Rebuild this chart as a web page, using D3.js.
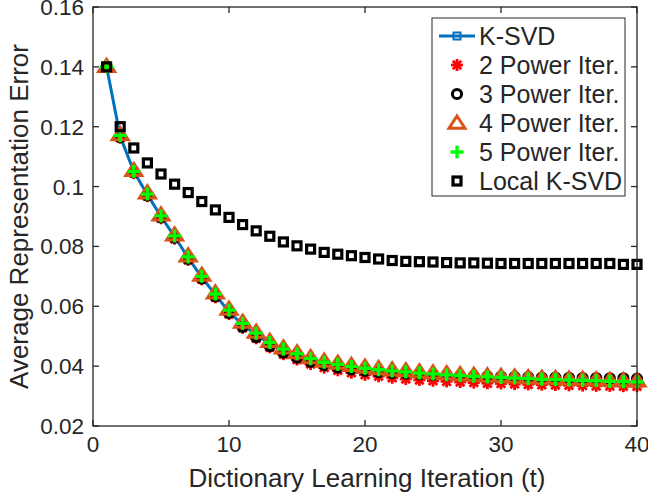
<!DOCTYPE html>
<html>
<head>
<meta charset="utf-8">
<script src="https://cdn.jsdelivr.net/npm/d3@7"></script>
<style>
  body { margin: 0; background: #fff; }
  text { font-family: "Liberation Sans", Arial, Helvetica, sans-serif; fill: #262626; }
</style>
</head>
<body>
<div id="chart"></div>
<script>
// iterations and errors
var iterations = [1,2,3,4,5,6,7,8,9,10,11,12,13,14,15,16,17,18,19,20,
                  21,22,23,24,25,26,27,28,29,30,31,32,33,34,35,36,37,38,39,40];

var ksvd = [0.1400,0.1168,0.1050,0.0973,0.0900,0.0833,0.0762,0.0697,0.0638,0.0582,
            0.0538,0.0505,0.0475,0.0452,0.0433,0.0418,0.0405,0.0397,0.0390,0.0384,
            0.0379,0.0375,0.0371,0.0368,0.0365,0.0362,0.0360,0.0358,0.0356,0.0355,
            0.0353,0.0352,0.0351,0.0350,0.0349,0.0348,0.0348,0.0347,0.0347,0.0346];
var power2 = [0.1400,0.1163,0.1045,0.0968,0.0894,0.0826,0.0755,0.0690,0.0630,0.0574,
              0.0528,0.0493,0.0463,0.0440,0.0422,0.0407,0.0395,0.0386,0.0378,0.0371,
              0.0366,0.0361,0.0357,0.0354,0.0351,0.0349,0.0347,0.0345,0.0343,0.0342,
              0.0340,0.0339,0.0338,0.0337,0.0336,0.0335,0.0334,0.0334,0.0333,0.0333];
var power3 = [0.1400,0.1165,0.1047,0.0970,0.0897,0.0829,0.0758,0.0693,0.0633,0.0578,
              0.0531,0.0497,0.0467,0.0445,0.0428,0.0414,0.0403,0.0395,0.0389,0.0384,
              0.0380,0.0377,0.0375,0.0373,0.0371,0.0370,0.0368,0.0367,0.0366,0.0365,
              0.0364,0.0363,0.0362,0.0362,0.0361,0.0360,0.0360,0.0359,0.0359,0.0358];
var power4 = [0.1402,0.1174,0.1054,0.0979,0.0906,0.0839,0.0769,0.0704,0.0645,0.0591,
              0.0547,0.0514,0.0483,0.0461,0.0445,0.0429,0.0417,0.0410,0.0403,0.0397,
              0.0392,0.0388,0.0385,0.0381,0.0378,0.0375,0.0372,0.0370,0.0368,0.0366,
              0.0364,0.0362,0.0360,0.0359,0.0357,0.0356,0.0355,0.0353,0.0352,0.0351];
var power5 = [0.1400,0.1170,0.1050,0.0975,0.0902,0.0835,0.0765,0.0700,0.0641,0.0587,
              0.0543,0.0510,0.0479,0.0457,0.0441,0.0425,0.0413,0.0406,0.0399,0.0393,
              0.0388,0.0384,0.0381,0.0377,0.0374,0.0371,0.0368,0.0366,0.0364,0.0362,
              0.0360,0.0358,0.0356,0.0355,0.0353,0.0352,0.0351,0.0349,0.0348,0.0347];
var localKsvd = [0.1400,0.1200,0.1129,0.1079,0.1042,0.1008,0.0980,0.0950,0.0922,0.0897,
                 0.0873,0.0852,0.0834,0.0815,0.0802,0.0791,0.0780,0.0774,0.0769,0.0763,
                 0.0758,0.0753,0.0750,0.0749,0.0748,0.0746,0.0745,0.0745,0.0744,0.0743,
                 0.0743,0.0743,0.0743,0.0743,0.0743,0.0743,0.0743,0.0743,0.0740,0.0740];

var seriesNames = ['K-SVD','2 Power Iter.','3 Power Iter.','4 Power Iter.','5 Power Iter.','Local K-SVD'];
var xTicks = [0, 10, 20, 30, 40];
var yTicks = [0.02, 0.04, 0.06, 0.08, 0.1, 0.12, 0.14, 0.16];
var yTickLabels = ['0.02','0.04','0.06','0.08','0.1','0.12','0.14','0.16'];

var width = 648, height = 497;
var margin = {left: 93, right: 11, top: 7, bottom: 71};
var axisColor = '#262626';

var svg = d3.select('#chart').append('svg')
    .attr('width', width).attr('height', height);

var x = d3.scaleLinear().domain([0, 40]).range([margin.left, width - margin.right]);
var y = d3.scaleLinear().domain([0.02, 0.16]).range([height - margin.bottom, margin.top]);

// marker shapes, MATLAB style
var markers = {
    ksvdSquare: function(g, c) {
        g.append('rect').attr('x', -3.5).attr('y', -3.5).attr('width', 7).attr('height', 7)
            .attr('fill', 'none').attr('stroke', c).attr('stroke-width', 2);
    },
    star: function(g, c) {
        var r = 6, d = r * 0.707;
        [[-r,0,r,0],[0,-r,0,r],[-d,-d,d,d],[-d,d,d,-d]].forEach(function(s) {
            g.append('line').attr('x1', s[0]).attr('y1', s[1]).attr('x2', s[2]).attr('y2', s[3])
                .attr('stroke', c).attr('stroke-width', 2.8);
        });
    },
    circle: function(g, c) {
        g.append('circle').attr('r', 4.6).attr('fill', 'none')
            .attr('stroke', c).attr('stroke-width', 3);
    },
    triangle: function(g, c) {
        g.append('path').attr('d', 'M0,-7L8,5.2L-8,5.2Z').attr('fill', 'none')
            .attr('stroke', c).attr('stroke-width', 3).attr('stroke-linejoin', 'miter');
    },
    plus: function(g, c) {
        g.append('path').attr('d', 'M-6.5,0H6.5M0,-6.5V6.5').attr('stroke', c).attr('stroke-width', 3.3);
    },
    square: function(g, c) {
        g.append('rect').attr('x', -4).attr('y', -4).attr('width', 8).attr('height', 8)
            .attr('fill', 'none').attr('stroke', c).attr('stroke-width', 3.2);
    }
};

var series = [
    {name: seriesNames[0], values: ksvd, color: '#0072BD', marker: 'ksvdSquare', line: true},
    {name: seriesNames[1], values: power2, color: '#FF0000', marker: 'star'},
    {name: seriesNames[2], values: power3, color: '#000000', marker: 'circle'},
    {name: seriesNames[3], values: power4, color: '#D95319', marker: 'triangle'},
    {name: seriesNames[4], values: power5, color: '#00FF00', marker: 'plus'},
    {name: seriesNames[5], values: localKsvd, color: '#000000', marker: 'square'}
];

// axes box with inward ticks
var plot = svg.append('g');
var x0 = x.range()[0], x1 = x.range()[1], y0 = y.range()[0], y1 = y.range()[1];
var tickLen = 6;

svg.append('rect').attr('x', x0).attr('y', y1).attr('width', x1 - x0).attr('height', y0 - y1)
    .attr('fill', 'none').attr('stroke', axisColor).attr('stroke-width', 1.3);

var xAxis = svg.append('g');
xTicks.forEach(function(t) {
    xAxis.append('line').attr('x1', x(t)).attr('x2', x(t)).attr('y1', y0).attr('y2', y0 - tickLen)
        .attr('stroke', axisColor).attr('stroke-width', 1.3);
    xAxis.append('line').attr('x1', x(t)).attr('x2', x(t)).attr('y1', y1).attr('y2', y1 + tickLen)
        .attr('stroke', axisColor).attr('stroke-width', 1.3);
    xAxis.append('text').attr('x', x(t)).attr('y', 452).attr('text-anchor', 'middle')
        .style('font-size', '22.5px').text(t);
});

var yAxis = svg.append('g');
yTicks.forEach(function(t, i) {
    yAxis.append('line').attr('x1', x0).attr('x2', x0 + tickLen).attr('y1', y(t)).attr('y2', y(t))
        .attr('stroke', axisColor).attr('stroke-width', 1.3);
    yAxis.append('line').attr('x1', x1).attr('x2', x1 - tickLen).attr('y1', y(t)).attr('y2', y(t))
        .attr('stroke', axisColor).attr('stroke-width', 1.3);
    yAxis.append('text').attr('x', x0 - 9).attr('y', y(t) + 8).attr('text-anchor', 'end')
        .style('font-size', '22.5px').text(yTickLabels[i]);
});

svg.append('text').attr('x', (x0 + x1) / 2 + 2).attr('y', 487).attr('text-anchor', 'middle')
    .style('font-size', '26px').text('Dictionary Learning Iteration (t)');
svg.append('text').attr('transform', 'translate(28,' + ((y0 + y1) / 2) + ') rotate(-90)')
    .attr('text-anchor', 'middle').style('font-size', '26px').text('Average Representation Error');

// series
var line = d3.line().x(function(d) { return x(d[0]); }).y(function(d) { return y(d[1]); });

series.forEach(function(s) {
    var pts = iterations.map(function(t, i) { return [t, s.values[i]]; });
    var g = plot.append('g');
    if (s.line) {
        g.append('path').datum(pts).attr('d', line).attr('fill', 'none')
            .attr('stroke', s.color).attr('stroke-width', 3);
    }
    g.selectAll('g.mk').data(pts).enter().append('g').attr('class', 'mk')
        .attr('transform', function(d) { return 'translate(' + x(d[0]) + ',' + y(d[1]) + ')'; })
        .each(function() { markers[s.marker](d3.select(this), s.color); });
});

// legend
var legend = svg.append('g');
legend.append('rect').attr('x', 432).attr('y', 18).attr('width', 193).attr('height', 178)
    .attr('fill', '#fff').attr('stroke', axisColor).attr('stroke-width', 1);
series.forEach(function(s, i) {
    var ly = 36 + i * 29;
    if (s.line) {
        legend.append('line').attr('x1', 439).attr('x2', 475).attr('y1', ly).attr('y2', ly)
            .attr('stroke', s.color).attr('stroke-width', 3);
    }
    var mk = legend.append('g').attr('transform', 'translate(457,' + ly + ')');
    markers[s.marker](mk, s.color);
    legend.append('text').attr('x', 479).attr('y', ly + 8.5)
        .style('font-size', '25px').text(s.name);
});
</script>
</body>
</html>
